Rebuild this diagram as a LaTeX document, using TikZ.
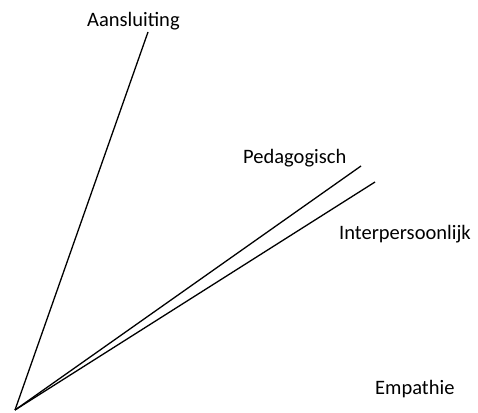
\documentclass[tikz,border=0pt]{standalone}
\usepackage{fontspec}
\setmainfont{Carlito}
\tikzset{
    label/.style={anchor=base west, inner sep=0pt, font=\fontsize{20.5}{24}\selectfont},
    edge/.style={-, draw=black, line width=1.3pt},
}

\begin{document}
\begin{tikzpicture}[x=1pt,y=-1pt]
    \useasboundingbox (0,0) rectangle (478,412);
    \coordinate (o) at (15,410);
    \coordinate (e1) at (148,32);
    \coordinate (e2) at (361,166);
    \coordinate (e3) at (375,182);
    \node[label] (aan) at (87,27) {Aansluiting};
    \node[label] (ped) at (243,163) {Pedagogisch};
    \node[label] (int) at (339,239) {Interpersoonlijk};
    \node[label] (emp) at (375,394) {Empathie};
    \draw[edge] (o) -- (e1);
    \draw[edge] (o) -- (e2);
    \draw[edge] (o) -- (e3);
\end{tikzpicture}
\end{document}
